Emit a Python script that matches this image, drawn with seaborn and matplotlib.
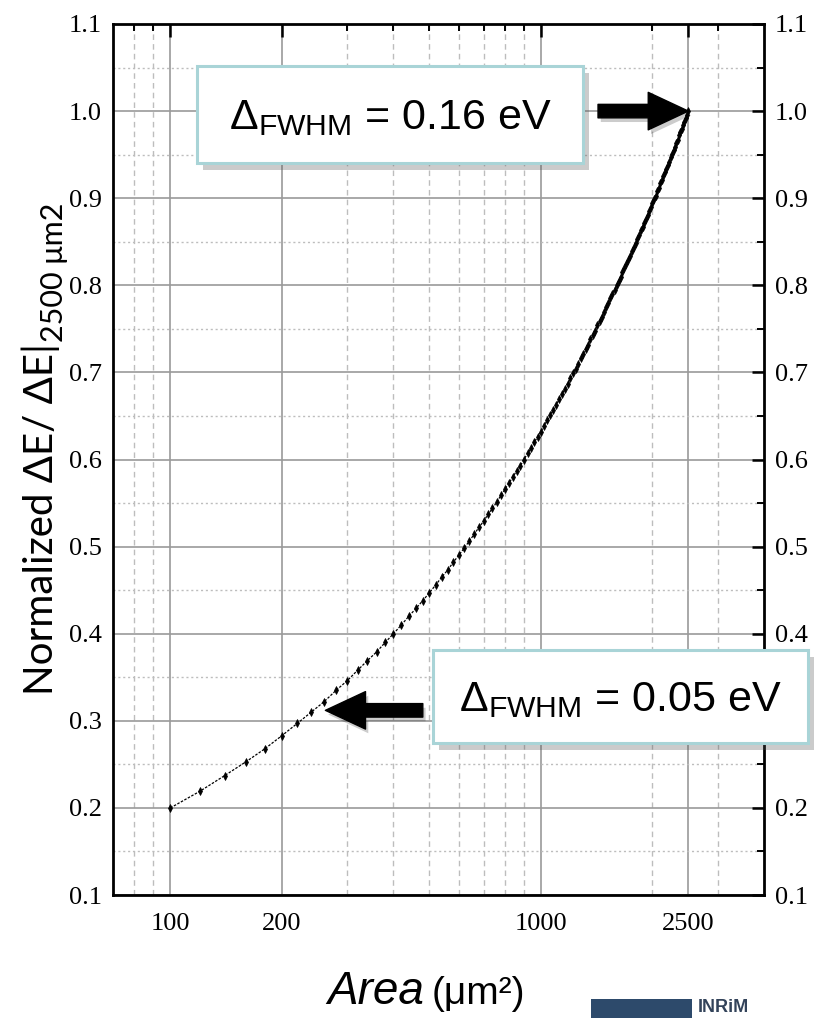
"""Normalized energy resolution vs pixel area."""

import pandas as pd
import seaborn as sns
import matplotlib.pyplot as plt
from matplotlib.patches import FancyBboxPatch, Rectangle
from matplotlib import patheffects as pe
from matplotlib.ticker import FixedLocator, FixedFormatter, NullFormatter

# data: one point every 20 um2 from 100 to 2500
area = list(range(100, 2501, 20))
norm_de = [
    0.200, 0.219, 0.237, 0.253, 0.268, 0.283, 0.297, 0.310, 0.322, 0.335,
    0.346, 0.358, 0.369, 0.379, 0.390, 0.400, 0.410, 0.420, 0.429, 0.438,
    0.447, 0.456, 0.465, 0.473, 0.482, 0.490, 0.498, 0.506, 0.514, 0.522,
    0.529, 0.537, 0.544, 0.551, 0.559, 0.566, 0.573, 0.580, 0.587, 0.593,
    0.600, 0.607, 0.613, 0.620, 0.626, 0.632, 0.639, 0.645, 0.651, 0.657,
    0.663, 0.669, 0.675, 0.681, 0.687, 0.693, 0.699, 0.704, 0.710, 0.716,
    0.721, 0.727, 0.732, 0.738, 0.743, 0.748, 0.754, 0.759, 0.764, 0.769,
    0.775, 0.780, 0.785, 0.790, 0.795, 0.800, 0.805, 0.810, 0.815, 0.820,
    0.825, 0.829, 0.834, 0.839, 0.844, 0.849, 0.853, 0.858, 0.863, 0.867,
    0.872, 0.876, 0.881, 0.885, 0.890, 0.894, 0.899, 0.903, 0.908, 0.912,
    0.917, 0.921, 0.925, 0.930, 0.934, 0.938, 0.942, 0.947, 0.951, 0.955,
    0.959, 0.963, 0.967, 0.972, 0.976, 0.980, 0.984, 0.988, 0.992, 0.996,
    1.000,
]
x_major = [100, 200, 1000, 2500]
x_minor = [80, 90, 300, 400, 500, 600, 700, 800, 900, 2000, 3000]
y_major = [0.1, 0.2, 0.3, 0.4, 0.5, 0.6, 0.7, 0.8, 0.9, 1.0, 1.1]
y_minor = [0.15, 0.25, 0.35, 0.45, 0.55, 0.65, 0.75, 0.85, 0.95, 1.05]
fwhm_labels = ["0.16 eV", "0.05 eV"]
arrow_tips = [(2500, 1.0), (262, 0.312)]
arrow_tails = [(1426, 1.0), (480, 0.312)]

df = pd.DataFrame({"Area": area, "Norm": norm_de})

sns.set_theme(style="white")
plt.rcParams["font.family"] = ["Liberation Serif", "DejaVu Serif"]
plt.rcParams["mathtext.fontset"] = "custom"
plt.rcParams["mathtext.rm"] = "Liberation Sans"
plt.rcParams["mathtext.it"] = "Liberation Sans:italic"

W, H = 819, 1018
fig = plt.figure(figsize=(W / 100, H / 100), dpi=100)
ax = fig.add_axes([113 / W, 1 - 895 / H, 651 / W, 871 / H])

sns.lineplot(data=df, x="Area", y="Norm", ax=ax, color="black", lw=0.9,
             ls=(0, (2, 1.2)), marker="d", markersize=4, markeredgewidth=0.5,
             markeredgecolor="black", zorder=3)

ax.set_xscale("log")
ax.set_xlim(70, 4000)
ax.set_ylim(0.1, 1.1)
ax.xaxis.set_major_locator(FixedLocator(x_major))
ax.xaxis.set_major_formatter(FixedFormatter([str(v) for v in x_major]))
ax.xaxis.set_minor_locator(FixedLocator(x_minor))
ax.xaxis.set_minor_formatter(NullFormatter())
ax.yaxis.set_major_locator(FixedLocator(y_major))
ax.yaxis.set_major_formatter(FixedFormatter([f"{v:.1f}" for v in y_major]))
ax.yaxis.set_minor_locator(FixedLocator(y_minor))
ax.set_xlabel("")
ax.set_ylabel("")

ax.tick_params(which="both", direction="in", top=True, right=True,
               labelright=True, labelleft=True, labelsize=19, colors="black")
ax.tick_params(which="major", length=9, width=1.8, pad=13)
ax.tick_params(which="minor", length=5, width=1.4)
ax.tick_params(axis="y", which="major", pad=8)

ax.set_axisbelow(True)
ax.grid(which="major", color="#9a9a9a", lw=1.2, ls="-")
ax.grid(which="minor", axis="x", color="#bdbdbd", lw=1.0, ls=(0, (4, 3)))
ax.grid(which="minor", axis="y", color="#bdbdbd", lw=1.0, ls=(0, (1.5, 2)))
for s in ax.spines.values():
    s.set_color("black")
    s.set_linewidth(2)

# annotation boxes (pixel layout)
boxes = [(197, 66, 583, 163), (433, 650, 808, 743)]
for (x0, y0, x1, y1), lab in zip(boxes, fwhm_labels):
    patch = FancyBboxPatch((x0 / W, 1 - y1 / H), (x1 - x0) / W, (y1 - y0) / H,
                           boxstyle="square,pad=0", transform=fig.transFigure,
                           fc="white", ec="#a9d4d7", lw=2.2, zorder=5)
    patch.set_path_effects([pe.SimplePatchShadow(offset=(4, -5), shadow_rgbFace="#555555",
                                                 alpha=0.3), pe.Normal()])
    fig.add_artist(patch)
    fig.text((x0 + x1) / 2 / W, 1 - (y0 + y1) / 2 / H - 0.004,
             r"$\Delta_{\mathrm{FWHM}}$ = " + lab, ha="center", va="center",
             fontsize=31, family="Liberation Sans", color="black", zorder=6)

for tip, tail in zip(arrow_tips, arrow_tails):
    ax.annotate("", xy=tip, xytext=tail, zorder=7,
                arrowprops=dict(arrowstyle="simple,head_length=1.07,head_width=1.0,tail_width=0.36",
                                fc="black", ec="black", mutation_scale=27,
                                shrinkA=0, shrinkB=0,
                                path_effects=[pe.SimplePatchShadow(offset=(2, -3), alpha=0.2),
                                              pe.Normal()]))

# y label with subscript
t1 = fig.text(60 / W, 1 - 695 / H, "Normalized ΔE/ ΔE|", rotation=90,
              ha="right", va="bottom", fontsize=29, family=["Lato", "DejaVu Sans"],
              color="black")
ax.annotate("2500 μm2", xy=(1, 1), xycoords=t1, xytext=(6, 1),
            textcoords="offset points", rotation=90, ha="right", va="bottom",
            fontsize=22, family=["Lato", "DejaVu Sans"], color="black",
            annotation_clip=False)

# x label
fig.text(424 / W, 1 - 1004 / H, "Area", ha="right", va="baseline", fontsize=33,
         style="italic", family="Liberation Sans", color="black")
fig.text(432 / W, 1 - 1004 / H, "(μm²)", ha="left", va="baseline", fontsize=28,
         family="Liberation Sans", color="black")

# logo in the corner
fig.add_artist(Rectangle((591 / W, 0), 101 / W, 19 / H, transform=fig.transFigure,
                         fc="#2d4a6b", ec="none", zorder=5))
fig.text(698 / W, 2 / H, "INRiM", ha="left", va="bottom", fontsize=13,
         fontweight="bold", family="Liberation Sans", color="#33435a", zorder=5)

plt.savefig("out.png", dpi=100)
